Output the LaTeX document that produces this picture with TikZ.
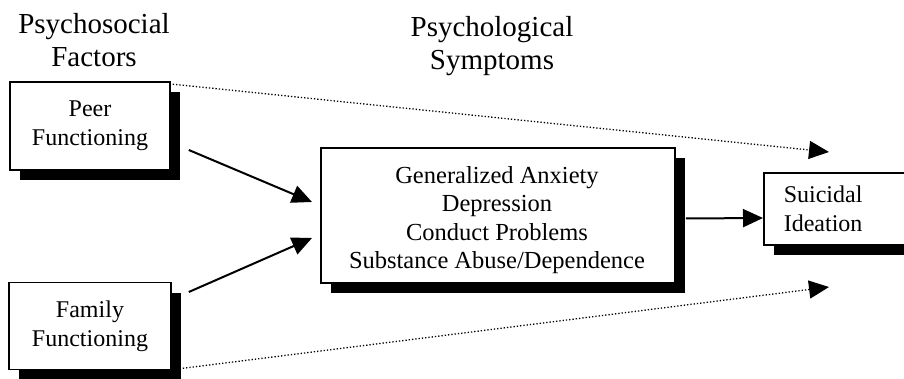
\documentclass[tikz,border=0pt]{standalone}
\usepackage{fontspec}
\setmainfont{Liberation Serif}
\usetikzlibrary{arrows.meta, shadows}

\tikzset{
  factor/.style={draw, line width=1.6pt, fill=white, align=center, inner sep=0pt,
    font=\fontsize{24}{29}\selectfont,
    drop shadow={shadow xshift=10pt, shadow yshift=-10pt, fill=black, opacity=1}},
  heading/.style={align=center, font=\fontsize{29}{33}\selectfont},
  effect/.style={line width=2pt, -{Triangle[length=20pt, width=18pt]}},
  direct/.style={line width=1.3pt, dotted, -{Triangle[length=20pt, width=18pt]}}
}

\begin{document}
\begin{tikzpicture}[x=1pt, y=-1pt]
  \clip (0,0) rectangle (904,379);
  \node[heading] (psf) at (94,40) {Psychosocial\\Factors};
  \node[heading] (psy) at (492,46) {Psychological\\Symptoms};
  \node[factor, minimum width=160pt, minimum height=88pt] (peer) at (90,126) {Peer\\Functioning};
  \node[factor, minimum width=162pt, minimum height=87pt, below of=peer, node distance=200pt] (family) {Family\\Functioning};
  \node[factor, minimum width=354pt, minimum height=135pt] (symptoms) at (498,215.5) {};
  \node[align=center, font=\fontsize{24.5}{28.5}\selectfont] (symptomlist) at (497,220)
    {Generalized Anxiety\\Depression\\Conduct Problems\\Substance Abuse/Dependence};
  \node[factor, anchor=west, minimum height=72pt, align=left, inner xsep=20pt, text width=130pt] (ideation) at (763,209) {Suicidal\\Ideation};

  \coordinate (peerin) at (312,202);
  \coordinate (famin) at (312,238);
  \coordinate (peerout) at (829,152);
  \coordinate (famout) at (829,287);

  \draw[effect] ([shift={(18,24)}]peer.east) -- (peerin);
  \draw[effect] ([shift={(17,-34)}]family.east) -- (famin);
  \draw[effect] ([shift={(10,3)}]symptoms.east) -- ([shift={(0,9)}]ideation.west);
  \draw[direct] ([shift={(2,3)}]peer.north east) -- (peerout);
  \draw[direct] ([shift={(11,-2)}]family.south east) -- (famout);
\end{tikzpicture}
\end{document}
